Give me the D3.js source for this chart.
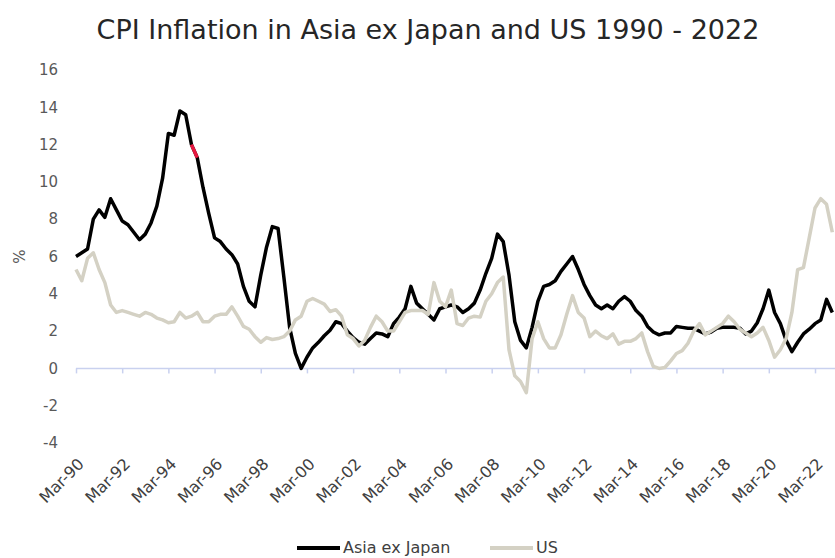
<!DOCTYPE html>
<html>
<head>
<meta charset="utf-8">
<script src="https://cdn.jsdelivr.net/npm/d3@7"></script>
<style>
  body { margin: 0; overflow: hidden; background: #fff; }
  text { font-family: "DejaVu Sans", sans-serif; }
</style>
</head>
<body>
<svg id="chart" width="835" height="558"></svg>
<script>

// quarterly, Mar-90 .. Dec-22 (one row per year)
var asiaExJapan = [
	6.0, 6.2, 6.4, 8.0,   8.5, 8.1, 9.1, 8.5,   7.9, 7.7, 7.3, 6.9,
	7.2, 7.8, 8.7, 10.2,  12.6, 12.5, 13.8, 13.6, 12.0, 11.3, 9.7, 8.3,
	7.0, 6.8, 6.4, 6.1,   5.6, 4.4, 3.6, 3.3,   5.0, 6.5, 7.6, 7.5,
	4.9, 2.2, 0.8, 0.0,   0.6, 1.1, 1.4, 1.75,  2.05, 2.5, 2.4, 2.0,
	1.65, 1.4, 1.3, 1.6,  1.9, 1.85, 1.7, 2.4,  2.75, 3.2, 4.4, 3.5,
	3.2, 2.9, 2.6, 3.2,   3.3, 3.4, 3.3, 3.0,   3.2, 3.5, 4.2, 5.1,
	5.9, 7.2, 6.8, 5.0,   2.5, 1.5, 1.1, 2.2,   3.6, 4.4, 4.5, 4.7,
	5.2, 5.6, 6.0, 5.3,   4.5, 3.9, 3.4, 3.2,   3.4, 3.2, 3.6, 3.85,
	3.6, 3.1, 2.8, 2.25,  1.95, 1.8, 1.9, 1.9,  2.25, 2.2, 2.15, 2.15,
	2.0, 1.85, 1.95, 2.15, 2.2, 2.2, 2.2, 2.15, 1.85, 2.0, 2.45, 3.2,
	4.2, 3.0, 2.4, 1.5,   0.9, 1.4, 1.85, 2.1,  2.4, 2.6, 3.7, 3.0
];

var us = [
	5.3, 4.7, 5.9, 6.2,   5.3, 4.6, 3.4, 3.0,   3.1, 3.0, 2.9, 2.8,
	3.0, 2.9, 2.7, 2.6,   2.45, 2.5, 3.0, 2.7,  2.8, 3.0, 2.5, 2.5,
	2.8, 2.9, 2.9, 3.3,   2.8, 2.25, 2.1, 1.7,  1.4, 1.65, 1.55, 1.6,
	1.7, 2.0, 2.6, 2.8,   3.6, 3.75, 3.6, 3.45, 3.05, 3.15, 2.8, 1.8,
	1.6, 1.2, 1.5, 2.2,   2.8, 2.5, 2.0, 2.0,   2.5, 3.0, 3.1, 3.1,
	3.1, 2.9, 4.6, 3.6,   3.3, 4.2, 2.4, 2.3,   2.7, 2.8, 2.75, 3.6,
	4.0, 4.6, 4.9, 1.0,   -0.4, -0.7, -1.3, 1.6, 2.5, 1.6, 1.1, 1.1,
	1.8, 2.9, 3.9, 3.0,   2.7, 1.7, 2.0, 1.75,  1.6, 1.85, 1.3, 1.45,
	1.45, 1.6, 1.9, 0.9,  0.1, 0.0, 0.05, 0.4,  0.8, 0.95, 1.35, 2.0,
	2.4, 1.8, 2.0, 2.2,   2.4, 2.8, 2.5, 2.1,   1.9, 1.7, 1.9, 2.2,
	1.5, 0.6, 1.0, 1.6,   3.0, 5.3, 5.4, 7.0,   8.6, 9.1, 8.8, 7.3
];

var tickLabels = ['Mar-90', 'Mar-92', 'Mar-94', 'Mar-96', 'Mar-98', 'Mar-00', 'Mar-02', 'Mar-04', 'Mar-06',
	'Mar-08', 'Mar-10', 'Mar-12', 'Mar-14', 'Mar-16', 'Mar-18', 'Mar-20', 'Mar-22'];

var yTicks = [-4, -2, 0, 2, 4, 6, 8, 10, 12, 14, 16];

// the one segment excel had picked out in red
var redFrom = 20;

var svg = d3.select('#chart');

// Mar-90 .. Mar-22 = quarters 0..128, the last few run off the right edge
var x = d3.scaleLinear().domain([0, 128]).range([76, 815]);
var y = d3.scaleLinear().domain([-4, 16]).range([443, 70]);

svg.append('text')
	.attr('x', 428)
	.attr('y', 39)
	.attr('text-anchor', 'middle')
	.attr('font-size', 27)
	.attr('fill', '#262626')
	.text('CPI Inflation in Asia ex Japan and US 1990 - 2022');

// y labels, no axis line
svg.append('g').selectAll('text')
	.data(yTicks)
	.enter().append('text')
	.attr('x', 58)
	.attr('y', function(d) { return y(d); })
	.attr('dy', '0.35em')
	.attr('text-anchor', 'end')
	.attr('font-size', 15)
	.attr('fill', '#595959')
	.text(function(d) { return d; });

svg.append('text')
	.attr('transform', 'translate(20,' + y(6) + ') rotate(-90)')
	.attr('text-anchor', 'middle')
	.attr('dy', '0.35em')
	.attr('font-size', 15)
	.attr('fill', '#595959')
	.text('%');

// zero line with tick marks every two years
var xAxis = d3.axisBottom(x)
	.tickValues(d3.range(0, 136, 8))
	.tickSize(5)
	.tickFormat('');

var axisG = svg.append('g')
	.attr('transform', 'translate(0,' + y(0) + ')')
	.call(xAxis);
axisG.select('.domain').attr('d', 'M' + x(0) + ',0H840').attr('stroke', '#c9d1ef').attr('stroke-width', 1.5);
axisG.selectAll('.tick line').attr('stroke', '#c9d1ef').attr('stroke-width', 1.5);

// labels sit at the bottom of the plot, not on the zero line
svg.append('g').selectAll('text')
	.data(tickLabels)
	.enter().append('text')
	.attr('transform', function(d, i) { return 'translate(' + (x(i * 8) + 9) + ',' + (y(-4) + 22) + ') rotate(-45)'; })
	.attr('text-anchor', 'end')
	.attr('font-size', 16)
	.attr('fill', '#404040')
	.text(function(d) { return d; });

var line = d3.line()
	.x(function(d, i) { return x(i); })
	.y(function(d) { return y(d); });

svg.append('path')
	.datum(asiaExJapan)
	.attr('d', line)
	.attr('fill', 'none')
	.attr('stroke', '#000')
	.attr('stroke-width', 3.5)
	.attr('stroke-linejoin', 'round');

svg.append('path')
	.datum(asiaExJapan.slice(redFrom, redFrom + 2))
	.attr('d', d3.line()
		.x(function(d, i) { return x(redFrom + i); })
		.y(function(d) { return y(d); }))
	.attr('fill', 'none')
	.attr('stroke', '#e8173f')
	.attr('stroke-width', 3.5);

svg.append('path')
	.datum(us)
	.attr('d', line)
	.attr('fill', 'none')
	.attr('stroke', '#d4d1c4')
	.attr('stroke-width', 3.5)
	.attr('stroke-linejoin', 'round');

// legend
var legend = [
	{ name: 'Asia ex Japan', color: '#000', x: 297 },
	{ name: 'US', color: '#d4d1c4', x: 490 }
];

var lg = svg.append('g').selectAll('g')
	.data(legend)
	.enter().append('g')
	.attr('transform', function(d) { return 'translate(' + d.x + ',548)'; });

lg.append('line')
	.attr('x1', 0).attr('x2', 43)
	.attr('stroke', function(d) { return d.color; })
	.attr('stroke-width', 4);

lg.append('text')
	.attr('x', 46)
	.attr('y', 5)
	.attr('font-size', 16)
	.attr('fill', '#404040')
	.text(function(d) { return d.name; });

</script>
</body>
</html>
